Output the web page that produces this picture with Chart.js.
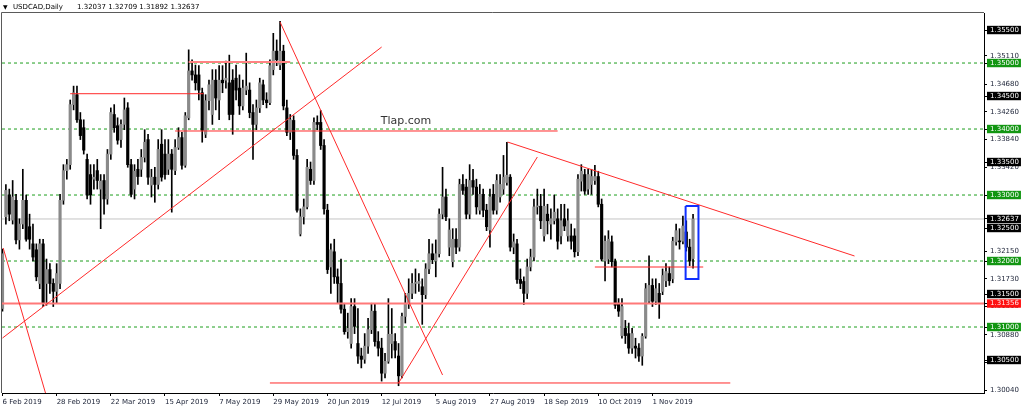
<!DOCTYPE html>
<html><head><meta charset="utf-8">
<script src="https://cdn.jsdelivr.net/npm/chart.js@4.4.1/dist/chart.umd.min.js"></script>
<style>html,body{margin:0;padding:0;background:#fff;overflow:hidden}canvas{display:block}</style>
</head><body>
<canvas id="c" width="1024" height="412"></canvas>
<script>
// ---------- data ----------
const symbolTitle = 'USDCAD,Daily';
const lastOHLC = [1.32037, 1.32709, 1.31892, 1.32637];
const watermark = 'Tlap.com';
const watermarkAt = [119.2, 1.34121];

const xTickBars = [0, 16, 32, 48, 64, 80, 96, 112, 128, 144, 160, 176, 192];
const xTickLabels = ['6 Feb 2019', '28 Feb 2019', '22 Mar 2019', '15 Apr 2019', '7 May 2019', '29 May 2019', '20 Jun 2019', '12 Jul 2019', '5 Aug 2019', '27 Aug 2019', '18 Sep 2019', '10 Oct 2019', '1 Nov 2019'];

const O = [
1.3128,1.3267,1.3300,1.3262,1.3292,1.3232,1.3256,1.3292,1.3252,1.3226,
1.3217,1.3166,1.3226,1.3166,1.3187,1.3166,1.3154,1.3166,1.3292,1.3337,
1.3346,1.3437,1.3452,1.3414,1.3402,1.3354,1.3331,1.3324,1.3337,1.3309,
1.3322,1.3294,1.3362,1.3422,1.3405,1.3384,1.3407,1.3432,1.3346,1.3309,
1.3339,1.3339,1.3357,1.3384,1.3315,1.3327,1.3316,1.3377,1.3362,1.3339,
1.3362,1.3337,1.3372,1.3387,1.3345,1.3417,1.3488,1.3482,1.3482,1.3455,
1.3392,1.3443,1.3422,1.3474,1.3444,1.3474,1.3474,1.3470,1.3474,1.3477,
1.3462,1.3435,1.3459,1.3459,1.3425,1.3407,1.3432,1.3467,1.3444,1.3440,
1.3490,1.3518,1.3497,1.3518,1.3432,1.3395,1.3413,1.3360,1.3241,1.3267,
1.3282,1.3339,1.3322,1.3410,1.3410,1.3375,1.3277,1.3191,1.3214,1.3176,
1.3166,1.3127,1.3093,1.3075,1.3131,1.3075,1.3056,1.3051,1.3071,1.3096,
1.3124,1.3078,1.3068,1.3030,1.3048,1.3075,1.3078,1.3056,1.3026,1.3116,
1.3136,1.3151,1.3166,1.3166,1.3161,1.3149,1.3188,1.3211,1.3200,1.3211,
1.3271,1.3297,1.3221,1.3199,1.3233,1.3221,1.3316,1.3312,1.3271,1.3322,
1.3312,1.3277,1.3301,1.3277,1.3247,1.3301,1.3277,1.3297,1.3309,1.3319,
1.3327,1.3221,1.3226,1.3172,1.3169,1.3151,1.3191,1.3206,1.3282,1.3283,
1.3238,1.3271,1.3256,1.3261,1.3264,1.3238,1.3264,1.3238,1.3238,1.3238,
1.3214,1.3321,1.3331,1.3309,1.3316,1.3322,1.3328,1.3286,1.3200,1.3203,
1.3229,1.3199,1.3136,1.3087,1.3098,1.3090,1.3068,1.3071,1.3068,1.3056,
1.3086,1.3139,1.3163,1.3139,1.3151,1.3154,1.3170,1.3181,1.3173,1.3229,
1.3230,1.3230,1.3244,1.3221,1.32037];
const H = [
1.3218,1.3316,1.3309,1.3322,1.3301,1.3264,1.3339,1.3300,1.3271,1.3256,
1.3226,1.3233,1.3233,1.3203,1.3196,1.3173,1.3196,1.3301,1.3346,1.3354,
1.3444,1.3465,1.3465,1.3425,1.3414,1.3362,1.3346,1.3346,1.3354,1.3331,
1.3331,1.3369,1.3432,1.3437,1.3417,1.3414,1.3447,1.3440,1.3354,1.3346,
1.3354,1.3369,1.3399,1.3392,1.3339,1.3342,1.3384,1.3399,1.3384,1.3384,
1.3369,1.3384,1.3402,1.3395,1.3425,1.3520,1.3505,1.3497,1.3496,1.3462,
1.3452,1.3474,1.3490,1.3490,1.3496,1.3496,1.3503,1.3512,1.3490,1.3497,
1.3482,1.3474,1.3515,1.3470,1.3437,1.3444,1.3477,1.3474,1.3455,1.3505,
1.3545,1.3535,1.3563,1.3527,1.3444,1.3422,1.3420,1.3369,1.3279,1.3294,
1.3354,1.3350,1.3417,1.3420,1.3428,1.3384,1.3286,1.3226,1.3233,1.3188,
1.3203,1.3136,1.3121,1.3143,1.3143,1.3128,1.3068,1.3090,1.3113,1.3136,
1.3136,1.3093,1.3083,1.3060,1.3143,1.3128,1.3090,1.3075,1.3121,1.3151,
1.3173,1.3181,1.3188,1.3181,1.3173,1.3196,1.3233,1.3226,1.3232,1.3279,
1.3342,1.3309,1.3264,1.3249,1.3249,1.3324,1.3331,1.3324,1.3346,1.3339,
1.3324,1.3316,1.3309,1.3286,1.3309,1.3316,1.3331,1.3331,1.3360,1.3380,
1.3331,1.3241,1.3233,1.3188,1.3176,1.3203,1.3218,1.3294,1.3309,1.3301,
1.3309,1.3286,1.3279,1.3300,1.3279,1.3286,1.3286,1.3279,1.3256,1.3249,
1.3331,1.3346,1.3339,1.3339,1.3339,1.3345,1.3336,1.3294,1.3238,1.3246,
1.3238,1.3203,1.3143,1.3143,1.3110,1.3106,1.3098,1.3083,1.3075,1.3090,
1.3166,1.3208,1.3173,1.3173,1.3166,1.3188,1.3196,1.3191,1.3236,1.3256,
1.3249,1.3268,1.3261,1.3233,1.32709];
const L = [
1.3124,1.3256,1.3261,1.3256,1.3226,1.3218,1.3249,1.3230,1.3218,1.3200,
1.3170,1.3158,1.3131,1.3133,1.3151,1.3131,1.3136,1.3158,1.3286,1.3324,
1.3339,1.3429,1.3410,1.3384,1.3362,1.3294,1.3286,1.3309,1.3309,1.3249,
1.3271,1.3286,1.3354,1.3395,1.3377,1.3372,1.3399,1.3342,1.3297,1.3294,
1.3316,1.3328,1.3350,1.3316,1.3297,1.3289,1.3309,1.3321,1.3324,1.3331,
1.3274,1.3331,1.3369,1.3339,1.3342,1.3414,1.3474,1.3459,1.3444,1.3380,
1.3387,1.3429,1.3407,1.3429,1.3414,1.3455,1.3462,1.3414,1.3392,1.3444,
1.3422,1.3429,1.3452,1.3417,1.3354,1.3399,1.3425,1.3437,1.3432,1.3437,
1.3482,1.3496,1.3490,1.3429,1.3390,1.3384,1.3354,1.3274,1.3238,1.3256,
1.3279,1.3316,1.3316,1.3399,1.3369,1.3271,1.3181,1.3151,1.3166,1.3136,
1.3121,1.3089,1.3083,1.3068,1.3090,1.3045,1.3038,1.3045,1.3060,1.3090,
1.3071,1.3056,1.3018,1.3023,1.3045,1.3053,1.3053,1.3011,1.3023,1.3106,
1.3128,1.3143,1.3151,1.3154,1.3104,1.3143,1.3181,1.3196,1.3176,1.3206,
1.3264,1.3261,1.3208,1.3191,1.3211,1.3215,1.3301,1.3264,1.3264,1.3301,
1.3271,1.3271,1.3267,1.3246,1.3221,1.3271,1.3271,1.3289,1.3301,1.3315,
1.3215,1.3211,1.3166,1.3158,1.3134,1.3143,1.3185,1.3200,1.3271,1.3249,
1.3230,1.3241,1.3233,1.3256,1.3218,1.3226,1.3246,1.3230,1.3218,1.3206,
1.3208,1.3306,1.3301,1.3301,1.3301,1.3316,1.3282,1.3200,1.3170,1.3196,
1.3191,1.3128,1.3116,1.3083,1.3075,1.3060,1.3060,1.3053,1.3048,1.3042,
1.3083,1.3136,1.3131,1.3134,1.3113,1.3149,1.3161,1.3163,1.3167,1.3224,
1.3218,1.3226,1.3215,1.3193,1.31892];
const C = [
1.3211,1.3307,1.3271,1.3297,1.3232,1.3256,1.3292,1.3233,1.3233,1.3206,
1.3176,1.3226,1.3136,1.3187,1.3166,1.3154,1.3181,1.3292,1.3337,1.3346,
1.3437,1.3455,1.3414,1.3390,1.3368,1.3300,1.3300,1.3327,1.3322,1.3321,
1.3294,1.3362,1.3425,1.3402,1.3383,1.3407,1.3429,1.3346,1.3301,1.3336,
1.3328,1.3357,1.3380,1.3327,1.3327,1.3316,1.3369,1.3327,1.3331,1.3362,
1.3339,1.3372,1.3387,1.3345,1.3420,1.3488,1.3482,1.3470,1.3459,1.3398,
1.3443,1.3467,1.3474,1.3447,1.3474,1.3470,1.3477,1.3422,1.3422,1.3459,
1.3435,1.3462,1.3465,1.3425,1.3407,1.3432,1.3470,1.3444,1.3440,1.3496,
1.3518,1.3505,1.3518,1.3435,1.3395,1.3414,1.3360,1.3277,1.3267,1.3282,
1.3342,1.3322,1.3410,1.3407,1.3375,1.3279,1.3187,1.3217,1.3176,1.3166,
1.3127,1.3093,1.3098,1.3131,1.3101,1.3056,1.3051,1.3071,1.3096,1.3124,
1.3078,1.3068,1.3030,1.3048,1.3089,1.3089,1.3065,1.3026,1.3116,1.3136,
1.3151,1.3166,1.3167,1.3169,1.3149,1.3188,1.3211,1.3202,1.3211,1.3271,
1.3297,1.3267,1.3247,1.3233,1.3221,1.3316,1.3307,1.3271,1.3322,1.3312,
1.3282,1.3301,1.3277,1.3252,1.3297,1.3277,1.3322,1.3316,1.3327,1.3330,
1.3221,1.3229,1.3172,1.3166,1.3151,1.3191,1.3206,1.3282,1.3283,1.3261,
1.3283,1.3261,1.3264,1.3274,1.3230,1.3261,1.3253,1.3261,1.3230,1.3214,
1.3324,1.3336,1.3306,1.3331,1.3328,1.3328,1.3286,1.3203,1.3230,1.3233,
1.3199,1.3133,1.3124,1.3131,1.3087,1.3068,1.3090,1.3068,1.3056,1.3086,
1.3158,1.3163,1.3139,1.3158,1.3136,1.3178,1.3184,1.3170,1.3230,1.3246,
1.3229,1.3253,1.3221,1.3200,1.32637];

// horizontal levels and drawn objects (bar index, price)
const greenLevels = [1.35, 1.34, 1.33, 1.32, 1.31];
const bidPrice = 1.32637;
const keyLevel = 1.31356;
const redSegments = [
  [0, 1.30833, 112, 1.35242],
  [0.2, 1.32197, 12.7, 1.3000],
  [82, 1.35621, 130, 1.30273],
  [117, 1.30152, 158, 1.33576],
  [149.2, 1.33803, 251.7, 1.32076],
  [20, 1.34535, 59.4, 1.34535],
  [51, 1.3397, 164, 1.3397],
  [79, 1.30152, 215, 1.30152],
  [175, 1.31909, 207, 1.31909]
];
const thickRedSegment = [55, 1.35015, 85, 1.35015];
const blueBox = [201.8, 205.6, 1.31727, 1.32833];

// price-axis labels
const axisPlain = [1.3511, 1.3468, 1.3426, 1.3384, 1.3342, 1.3215, 1.3173, 1.3131, 1.3088, 1.3046, 1.3004];
const axisBlack = [1.355, 1.345, 1.335, 1.325, 1.315, 1.305];

// ---------- chart ----------
const X_MIN = -0.148, X_MAX = 289.95;
const Y_MIN = 1.3000, Y_MAX = 1.35758;

Chart.defaults.font.family = '"DejaVu Sans", sans-serif';
Chart.defaults.font.size = 7;

const near = (a, b) => Math.abs(a - b) < 1e-7;
function kindOf(v) {
  if (near(v, keyLevel)) return 'red';
  if (near(v, bidPrice)) return 'black';
  if (greenLevels.some(g => near(g, v))) return 'green';
  if (axisBlack.some(g => near(g, v))) return 'black';
  return 'plain';
}
const boxBg = {red: '#ff1010', black: '#000000', green: '#129612', plain: 'rgba(0,0,0,0)'};
const boxFg = {red: '#ffe6e6', black: '#ffffff', green: '#ffffff', plain: '#1b2236'};
const axisTickOrder = [...axisPlain, ...axisBlack, ...greenLevels, keyLevel, bidPrice];

const idx = C.map((_, i) => i);
const wickData = idx.map(i => ({x: i, y: [L[i], H[i]]}));
const bodyData = idx.map(i => ({x: i, y: [O[i], C[i]]}));
const hLine = (p, a = X_MIN, b = X_MAX) => [{x: a, y: p}, {x: b, y: p}];
const lineDs = (data, color, width, order, dash) => ({
  type: 'line', data, borderColor: color, borderWidth: width, borderDash: dash || [],
  pointRadius: 0, fill: false, tension: 0, order
});

const datasets = [];
greenLevels.forEach(p => datasets.push(lineDs(hLine(p), '#1e9e1e', 1, 10, [3, 3])));
datasets.push(lineDs(hLine(bidPrice), '#c4c4c4', 1, 9));
datasets.push({type: 'bar', data: wickData, backgroundColor: '#000', barThickness: 1, grouped: false, minBarLength: 1, order: 6});
datasets.push({type: 'bar', data: bodyData, grouped: false, minBarLength: 1, barThickness: 2.5, order: 5,
  backgroundColor: ctx => (C[ctx.dataIndex] >= O[ctx.dataIndex] ? '#8a8a8a' : '#000000')});
datasets.push(lineDs(hLine(keyLevel), '#ff7878', 2, 3));
datasets.push(lineDs([{x: thickRedSegment[0], y: thickRedSegment[1]}, {x: thickRedSegment[2], y: thickRedSegment[3]}], '#ff8282', 2, 2));
redSegments.forEach(s => datasets.push(lineDs([{x: s[0], y: s[1]}, {x: s[2], y: s[3]}], '#ff2a2a', 1, 2)));
datasets.push(lineDs([
  {x: blueBox[0], y: blueBox[3]}, {x: blueBox[1], y: blueBox[3]},
  {x: blueBox[1], y: blueBox[2]}, {x: blueBox[0], y: blueBox[2]}, {x: blueBox[0], y: blueBox[3]}
], '#1030ff', 2, 1));

const decor = {
  id: 'decor',
  afterDraw(chart) {
    const ctx = chart.ctx, a = chart.chartArea;
    ctx.save();
    ctx.strokeStyle = '#5a5a5a'; ctx.lineWidth = 1;
    ctx.beginPath();
    ctx.moveTo(a.left - 0.5, a.bottom);
    ctx.lineTo(a.left - 0.5, a.top - 0.5);
    ctx.lineTo(a.right, a.top - 0.5);
    ctx.stroke();
    ctx.fillStyle = '#000'; ctx.textBaseline = 'middle'; ctx.textAlign = 'left';
    ctx.font = '6px "DejaVu Sans"';
    ctx.fillText('\u25BC', 3, 7);
    ctx.font = '7px "DejaVu Sans"';
    ctx.fillText(symbolTitle, 13, 7);
    ctx.fillText(lastOHLC.map(v => v.toFixed(5)).join(' '), 77, 7);
    const xs = chart.scales.x, ys = chart.scales.y;
    ctx.font = '11px "DejaVu Sans"'; ctx.fillStyle = '#333'; ctx.textAlign = 'center';
    ctx.fillText(watermark, xs.getPixelForValue(watermarkAt[0]), ys.getPixelForValue(watermarkAt[1]));
    ctx.restore();
  }
};

new Chart(document.getElementById('c'), {
  type: 'line',
  data: {datasets},
  plugins: [decor],
  options: {
    responsive: false, animation: false, devicePixelRatio: 1, events: [],
    layout: {padding: {left: 2, top: 13, right: 0, bottom: 0}},
    plugins: {legend: {display: false}, tooltip: {enabled: false}, title: {display: false}},
    scales: {
      x: {
        type: 'linear', min: X_MIN, max: X_MAX, offset: false, bounds: 'data',
        grid: {display: true, drawOnChartArea: false, drawTicks: true, tickLength: 3, color: '#000', offset: false},
        border: {display: true, color: '#000', width: 1},
        afterBuildTicks: s => { s.ticks = xTickBars.map(v => ({value: v})); },
        afterFit: s => { s.height = 19; },
        ticks: {autoSkip: false, maxRotation: 0, minRotation: 0, align: 'start', padding: 2, color: '#1b2236',
          callback: v => { const k = xTickBars.indexOf(v); return k >= 0 ? xTickLabels[k] : ''; }}
      },
      y: {
        type: 'linear', position: 'right', min: Y_MIN, max: Y_MAX, bounds: 'data',
        grid: {display: true, drawOnChartArea: false, drawTicks: true, tickLength: 3, color: '#000'},
        border: {display: true, color: '#000', width: 1},
        afterBuildTicks: s => { s.ticks = axisTickOrder.map(v => ({value: v})); },
        afterFit: s => { s.width = 40; },
        ticks: {
          autoSkip: false, padding: 3,
          callback: v => Number(v).toFixed(5),
          color: c => boxFg[kindOf(c.tick.value)],
          showLabelBackdrop: true,
          backdropColor: c => boxBg[kindOf(c.tick.value)],
          backdropPadding: {top: 0, bottom: 0, left: 3, right: 2}
        }
      }
    }
  }
});
</script>
</body></html>
